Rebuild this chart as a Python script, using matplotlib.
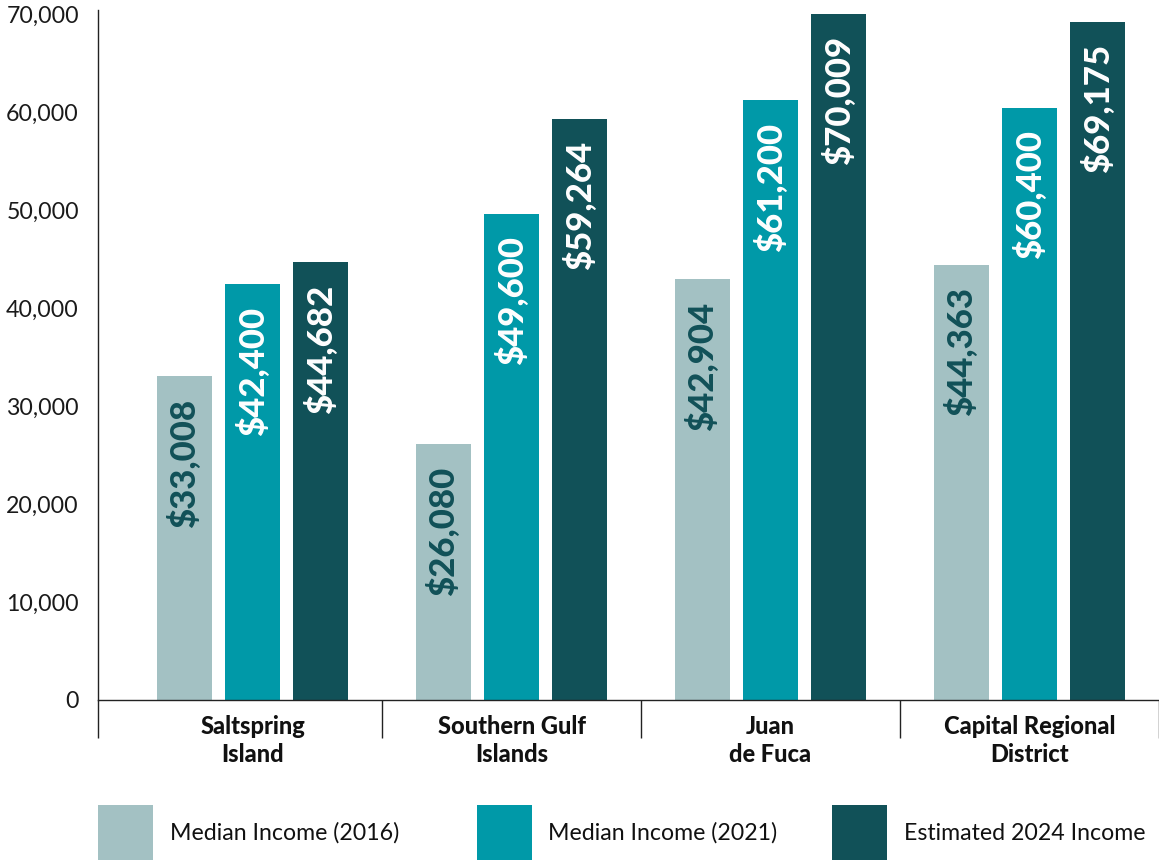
import matplotlib
matplotlib.use('Agg')
import matplotlib.pyplot as plt
from matplotlib.patches import Rectangle
import numpy as np

categories = ['Saltspring\nIsland', 'Southern Gulf\nIslands', 'Juan\nde Fuca', 'Capital Regional\nDistrict']
series_names = ['Median Income (2016)', 'Median Income (2021)', 'Estimated 2024 Income']
income_2016 = [33008, 26080, 42904, 44363]
income_2021 = [42400, 49600, 61200, 60400]
income_2024 = [44682, 59264, 70009, 69175]
ytick_values = [0, 10000, 20000, 30000, 40000, 50000, 60000, 70000]

colors = ['#A3C1C3', '#0099A8', '#115158']
label_colors = ['#115158', 'white', 'white']
series = [income_2016, income_2021, income_2024]

plt.rcParams['font.family'] = ['Lato', 'DejaVu Sans']

W, H = 1159, 860
fig = plt.figure(figsize=(W / 100, H / 100), dpi=100)
ax = fig.add_axes([97.7 / W, 1 - 700 / H, (W - 97.7) / W, 690 / H])

x = np.arange(len(categories))
offsets = [-0.263, 0.0, 0.263]
width = 0.2125
for i, vals in enumerate(series):
    bars = ax.bar(x + offsets[i], vals, width, color=colors[i], label=series_names[i], zorder=2)
    for b, v in zip(bars, vals):
        ax.annotate(f'${v:,}', xy=(b.get_x() + b.get_width() / 2, v), xytext=(0, -16),
                    textcoords='offset points', rotation=90, ha='center', va='top',
                    color=label_colors[i], fontsize=25, fontweight='black')

ax.set_xlim(-0.598, 3.5)
ax.set_ylim(0, 70400)
for s in ['top', 'right']:
    ax.spines[s].set_visible(False)
for s in ['left', 'bottom']:
    ax.spines[s].set_color('#222222')
    ax.spines[s].set_linewidth(1.0)

ax.set_yticks(ytick_values)
ax.set_yticklabels([f'{v:,}' for v in ytick_values], fontsize=16.7, color='#1a1a1a')
ax.tick_params(axis='y', length=0, pad=13.5)

ax.set_xticks(x)
ax.set_xticklabels(categories, fontsize=17, fontweight='black', linespacing=1.28, color='#111111')
ax.tick_params(axis='x', which='major', length=0, pad=10.5)
ax.set_xticks([-0.598, 0.5, 1.5, 2.5, 3.5], minor=True)
ax.tick_params(axis='x', which='minor', length=27.4, width=1.0, color='#222222', direction='out')

legend_patch_x = [98, 477, 832]
legend_text_x = [170, 548, 904]
for i in range(3):
    fig.add_artist(Rectangle((legend_patch_x[i] / W, 0), 55 / W, 55 / H,
                             transform=fig.transFigure, color=colors[i], lw=0))
    fig.text(legend_text_x[i] / W, 1 - 833 / H, series_names[i], va='center', ha='left',
             fontsize=16.7, color='#111111')

fig.savefig('out.png', dpi=100)
